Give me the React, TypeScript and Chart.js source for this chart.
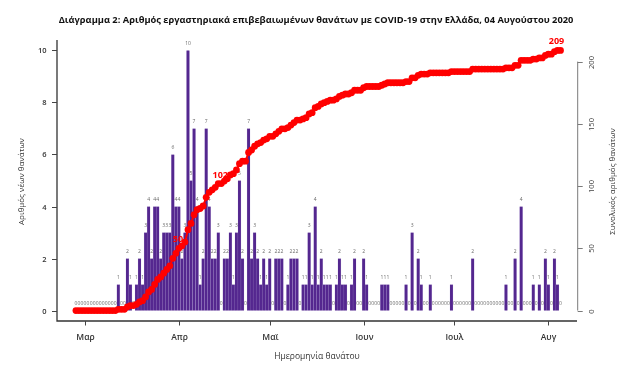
import React, { useEffect, useRef } from "react";
import { Chart, registerables } from "chart.js";
Chart.register(...registerables);

// Daily deaths by date of death, 26 Feb – 4 Aug 2020
const febDeaths = [0, 0, 0, 0]; // 26–29 Feb
const marDeaths = [0, 0, 0, 0, 0, 0, 0, 0, 0, 0, 1, 0, 0, 2, 1, 0, 1, 2, 1, 3, 4, 2, 4, 4, 2, 3, 3, 3, 6, 4, 4];
const aprDeaths = [2, 3, 10, 5, 7, 4, 1, 2, 7, 4, 2, 2, 3, 0, 2, 2, 3, 1, 3, 5, 2, 0, 7, 2, 3, 2, 1, 2, 1, 2];
const mayDeaths = [0, 2, 2, 2, 0, 1, 2, 2, 2, 0, 1, 1, 3, 1, 4, 1, 2, 1, 1, 1, 0, 1, 2, 1, 1, 0, 1, 2, 0, 0, 2];
const junDeaths = [1, 0, 0, 0, 0, 1, 1, 1, 0, 0, 0, 0, 0, 1, 0, 3, 0, 2, 1, 0, 0, 1, 0, 0, 0, 0, 0, 0, 1, 0];
const julDeaths = [0, 0, 0, 0, 0, 2, 0, 0, 0, 0, 0, 0, 0, 0, 0, 0, 1, 0, 0, 2, 0, 4, 0, 0, 0, 1, 0, 1, 0, 2, 1];
const augDeaths = [0, 2, 1, 0]; // 1–4 Aug

const firstDay = -3; // 26 Feb, counted in days from 1 Mar
const monthTickDays = [0, 31, 61, 92, 122, 153];
const monthLabels = ["Μαρ", "Απρ", "Μαϊ", "Ιουν", "Ιουλ", "Αυγ"];
const leftTicks = [0, 2, 4, 6, 8, 10];
const rightTicks = [0, 50, 100, 150, 200];
const labelledDays = [31, 45, 156]; // 1 Apr, 15 Apr, 4 Aug

const titleText =
  "Διάγραμμα 2: Αριθμός εργαστηριακά επιβεβαιωμένων θανάτων με COVID-19 στην Ελλάδα, 04 Αυγούστου 2020";
const xTitle = "Ημερομηνία θανάτου";
const yTitle = "Αριθμός νέων θανάτων";
const y2Title = "Συνολικός αριθμός θανάτων";

const dailyDeaths = [...febDeaths, ...marDeaths, ...aprDeaths, ...mayDeaths, ...junDeaths, ...julDeaths, ...augDeaths];
const days = dailyDeaths.map((_, i) => firstDay + i);
const cumulative: number[] = [];
dailyDeaths.reduce((acc, v) => {
  const s = acc + v;
  cumulative.push(s);
  return s;
}, 0);

const FONT = "'Open Sans', 'Noto Sans', sans-serif";
const PURPLE = "#54278F";
const RED = "#FF0000";

const rPlugin = {
  id: "rStyle",
  afterDatasetDraw(chart: any, args: any) {
    if (args.index !== 1) return;
    const ctx = chart.ctx;
    ctx.save();
    ctx.textAlign = "center";
    ctx.textBaseline = "middle";
    ctx.font = `5px ${FONT}`;
    ctx.fillStyle = "#6a6a6a";
    args.meta.data.forEach((el: any, i: number) => {
      ctx.fillText(String(dailyDeaths[i]), el.x, el.y - 7);
    });
    const lineMeta = chart.getDatasetMeta(0);
    ctx.font = `bold 9px ${FONT}`;
    ctx.fillStyle = RED;
    labelledDays.forEach((d) => {
      const i = days.indexOf(d);
      const p = lineMeta.data[i];
      if (p) ctx.fillText(String(cumulative[i]), p.x - 1, p.y - 8.5);
    });
    ctx.restore();
  },
  afterDraw(chart: any) {
    const ctx = chart.ctx;
    const { left, right, top, bottom } = chart.chartArea;
    const xs = chart.scales.x;
    const ys = chart.scales.y;
    const y2 = chart.scales.y2;
    ctx.save();
    // frame (left + bottom)
    ctx.strokeStyle = "#333";
    ctx.lineWidth = 1.3;
    ctx.beginPath();
    ctx.moveTo(left, top);
    ctx.lineTo(left, bottom);
    ctx.lineTo(right, bottom);
    ctx.stroke();

    // left ticks
    ctx.lineWidth = 1;
    ctx.strokeStyle = "#444";
    ctx.fillStyle = "#333";
    ctx.font = `600 7.5px ${FONT}`;
    ctx.textAlign = "right";
    ctx.textBaseline = "middle";
    leftTicks.forEach((v) => {
      const y = Math.round(ys.getPixelForValue(v)) + 0.5;
      ctx.beginPath();
      ctx.moveTo(left - 5, y);
      ctx.lineTo(left, y);
      ctx.stroke();
      ctx.fillText(String(v), left - 10.5, y);
    });

    // x ticks
    ctx.textAlign = "center";
    ctx.font = `600 8.5px ${FONT}`;
    monthTickDays.forEach((d, k) => {
      const x = Math.round(xs.getPixelForValue(d)) + 0.5;
      ctx.beginPath();
      ctx.moveTo(x, bottom);
      ctx.lineTo(x, bottom + 4.5);
      ctx.stroke();
      ctx.fillText(monthLabels[k], x, bottom + 17);
    });
    ctx.font = `8.5px ${FONT}`;
    ctx.fillText(xTitle, (left + right) / 2, bottom + 35.5);

    // left title
    ctx.save();
    ctx.translate(22, (top + bottom) / 2 + 1);
    ctx.rotate(-Math.PI / 2);
    ctx.font = `8px ${FONT}`;
    ctx.fillText(yTitle, 0, 0);
    ctx.restore();

    // right axis
    const ax = right + 0.7;
    ctx.strokeStyle = "#7a7a7a";
    ctx.beginPath();
    ctx.moveTo(ax, y2.getPixelForValue(rightTicks[0]));
    ctx.lineTo(ax, y2.getPixelForValue(rightTicks[rightTicks.length - 1]));
    ctx.stroke();
    ctx.fillStyle = "#444";
    ctx.font = `7.5px ${FONT}`;
    rightTicks.forEach((v) => {
      const y = Math.round(y2.getPixelForValue(v)) + 0.5;
      ctx.beginPath();
      ctx.moveTo(ax, y);
      ctx.lineTo(ax + 5, y);
      ctx.stroke();
      ctx.save();
      ctx.translate(ax + 14, y);
      ctx.rotate(-Math.PI / 2);
      ctx.fillText(String(v), 0, 0);
      ctx.restore();
    });
    ctx.save();
    ctx.translate(ax + 35, (top + bottom) / 2 + 1);
    ctx.rotate(-Math.PI / 2);
    ctx.font = `8px ${FONT}`;
    ctx.fillStyle = "#333";
    ctx.fillText(y2Title, 0, 0);
    ctx.restore();

    // main title
    ctx.fillStyle = "#111";
    ctx.font = `bold 9.3px ${FONT}`;
    ctx.fillText(titleText, 316, 20);
    ctx.restore();
  },
};

export default function App() {
  const ref = useRef<HTMLCanvasElement | null>(null);
  useEffect(() => {
    document.body.style.margin = "0";
    if (!ref.current) return;
    const chart = new Chart(ref.current, {
      type: "bar",
      data: {
        datasets: [
          {
            type: "line",
            data: days.map((d, i) => ({ x: d, y: cumulative[i] })),
            yAxisID: "y2",
            borderColor: RED,
            borderWidth: 2,
            pointRadius: 3.4,
            pointBackgroundColor: RED,
            pointBorderWidth: 0,
            tension: 0,
          } as any,
          {
            type: "bar",
            data: days.map((d, i) => ({ x: d, y: dailyDeaths[i] })),
            yAxisID: "y",
            backgroundColor: PURPLE,
            borderColor: "rgba(170,150,210,0.55)",
            borderWidth: { left: 0.4, right: 0.4, top: 0, bottom: 0 },
            borderSkipped: false,
            barPercentage: 1,
            categoryPercentage: 1,
          } as any,
        ],
      },
      options: {
        responsive: false,
        animation: false,
        devicePixelRatio: 1,
        layout: { padding: { left: 57, right: 53, top: 40, bottom: 49 } },
        plugins: { legend: { display: false }, tooltip: { enabled: false } },
        scales: {
          x: { type: "linear", min: -9.25, max: 162.45, offset: false, display: false },
          y: { min: -0.4, max: 10.4, display: false },
          y2: { min: -8.36, max: 217.36, display: false, position: "right" },
        },
      },
      plugins: [rPlugin],
    });
    return () => chart.destroy();
  }, []);
  return (
    <div style={{ position: "absolute", left: 0, top: 0, width: 630, height: 370, background: "#fff" }}>
      <canvas ref={ref} width={630} height={370} />
    </div>
  );
}
